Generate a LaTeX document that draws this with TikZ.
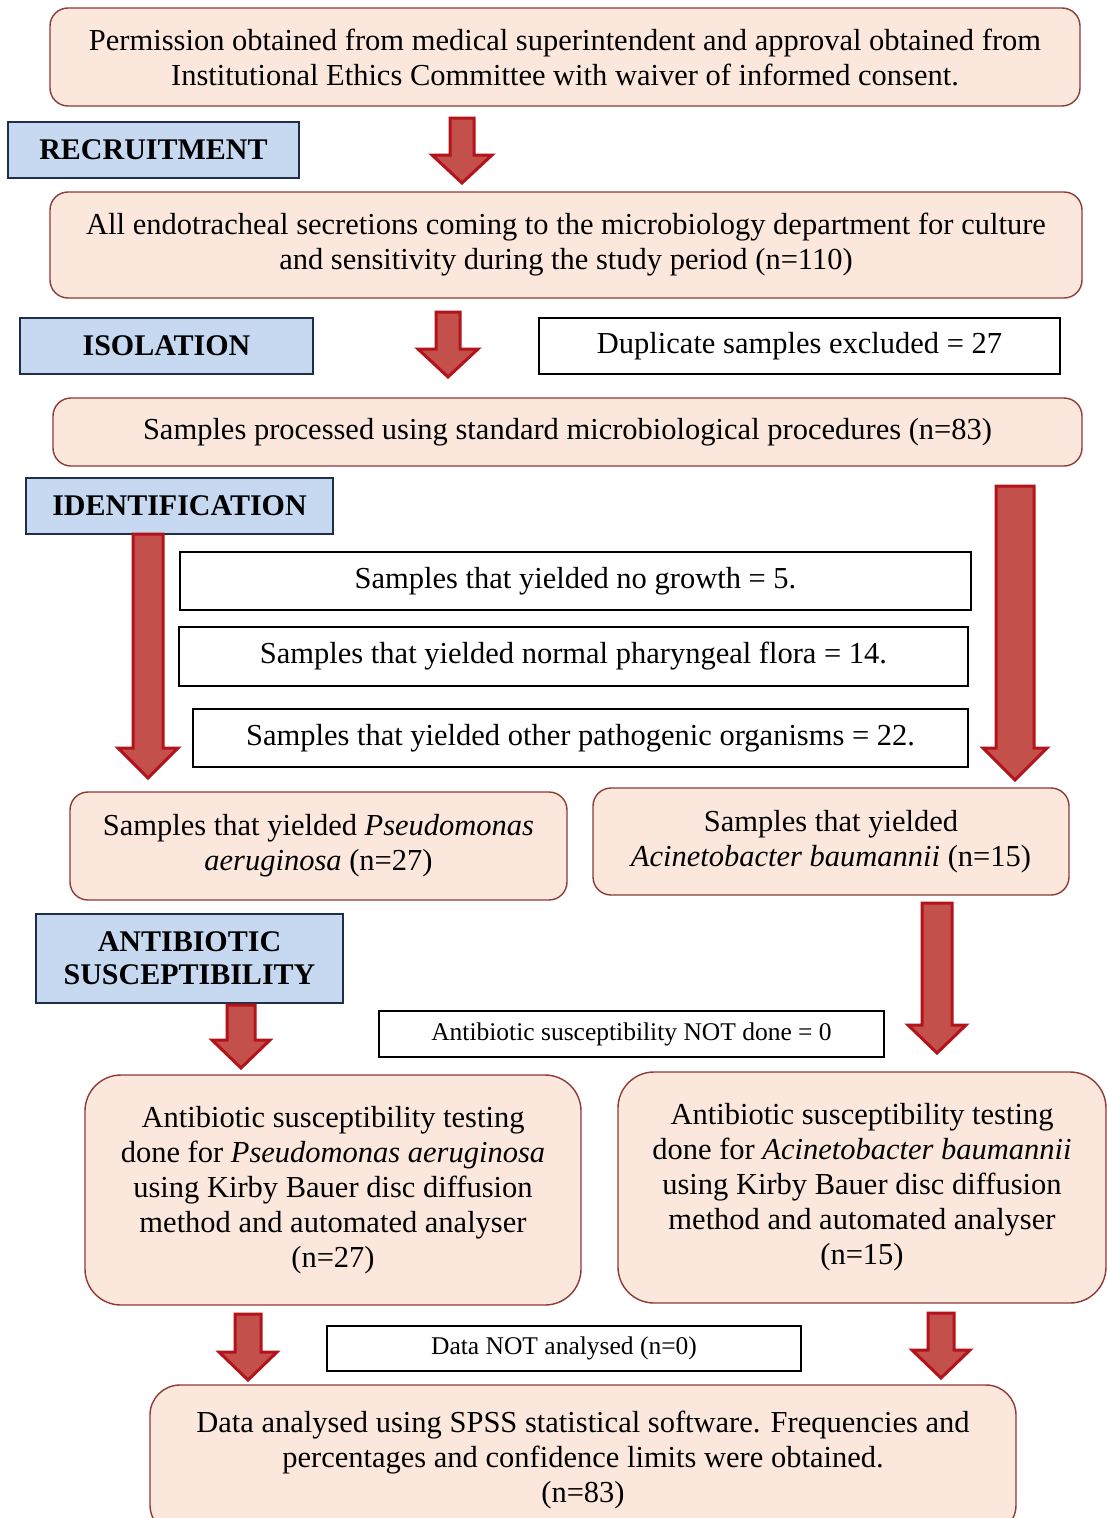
\documentclass[tikz,border=0pt]{standalone}
\usepackage{fontspec}
\setmainfont{Liberation Serif}
\definecolor{peachfill}{HTML}{FCE7DD}
\definecolor{peachline}{HTML}{8E3A36}
\definecolor{bluefill}{HTML}{C6D9F1}
\definecolor{blueline}{HTML}{1F2F4A}
\definecolor{arrfill}{HTML}{C4504C}
\definecolor{arrline}{HTML}{B3131A}
\tikzset{
  peach/.style={draw=peachline, fill=peachfill, line width=1.4pt, rounded corners=18pt, align=center, inner sep=0pt, font=\fontsize{30.5}{35}\selectfont},
  bluebox/.style={draw=blueline, fill=bluefill, line width=1.4pt, align=center, inner sep=0pt, font=\fontsize{30}{33}\selectfont\bfseries},
  whitebox/.style={draw=black, fill=white, line width=1.4pt, align=center, inner sep=0pt, font=\fontsize{30.5}{35}\selectfont},
  smallwhite/.style={whitebox, font=\fontsize{25.5}{28}\selectfont},
  blockarrow/.style={fill=arrfill, draw=arrline, line width=3pt, line join=miter},
}
\newcommand{\barrow}[6]{%
  \draw[blockarrow] ({#1-#4},#2) -- ({#1+#4},#2) -- ({#1+#4},{#3-#6}) -- ({#1+#5},{#3-#6}) -- (#1,#3) -- ({#1-#5},{#3-#6}) -- ({#1-#4},{#3-#6}) -- cycle;}
\begin{document}
\begin{tikzpicture}[x=1pt,y=-1pt]
\useasboundingbox[fill=white] (0,0) rectangle (1107,1518);

% main flow boxes
\node[peach, minimum width=1030pt, minimum height=98pt] (perm) at (565,57)
  {Permission obtained from medical superintendent and approval obtained from\\Institutional Ethics Committee with waiver of informed consent.};
\node[bluebox, minimum width=291pt, minimum height=56pt] (recr) at (153.5,150) {RECRUITMENT};
\node[peach, minimum width=1032pt, minimum height=106pt] (all) at (566,245)
  {All endotracheal secretions coming to the microbiology department for culture\\and sensitivity during the study period (n=110)};
\node[bluebox, minimum width=293pt, minimum height=56pt] (isol) at (166.5,346) {ISOLATION};
\node[whitebox, minimum width=521pt, minimum height=56pt] (dup) at (799.5,346) {Duplicate samples excluded = 27};
\node[peach, minimum width=1029pt, minimum height=68pt] (proc) at (567.5,432)
  {Samples processed using standard microbiological procedures (n=83)};
\node[bluebox, minimum width=307pt, minimum height=56pt] (ident) at (179.5,506) {IDENTIFICATION};

\node[whitebox, minimum width=791pt, minimum height=58pt] (nogr) at (575.5,581) {Samples that yielded no growth = 5.};
\node[whitebox, minimum width=789pt, minimum height=59pt] (flora) at (573.5,656.5) {Samples that yielded normal pharyngeal flora = 14.};
\node[whitebox, minimum width=775pt, minimum height=58pt] (other) at (580.5,738) {Samples that yielded other pathogenic organisms = 22.};

\node[peach, minimum width=497pt, minimum height=108pt] (pseudo) at (318.5,846)
  {Samples that yielded \textit{Pseudomonas}\\\textit{aeruginosa} (n=27)};
\node[peach, minimum width=476pt, minimum height=107pt] (acin) at (831,841.5)
  {Samples that yielded\\\textit{Acinetobacter baumannii} (n=15)};

\node[bluebox, minimum width=307pt, minimum height=89pt] (ast) at (189.5,958.5) {ANTIBIOTIC\\SUSCEPTIBILITY};
\node[smallwhite, minimum width=505pt, minimum height=46pt] (notdone) at (631.5,1034) {Antibiotic susceptibility NOT done = 0};

\node[peach, rounded corners=36pt, minimum width=496pt, minimum height=230pt] (astp) at (333,1190)
  {Antibiotic susceptibility testing\\done for \textit{Pseudomonas aeruginosa}\\using Kirby Bauer disc diffusion\\method and automated analyser\\(n=27)};
\node[peach, rounded corners=36pt, minimum width=488pt, minimum height=231pt] (asta) at (862,1187.5)
  {Antibiotic susceptibility testing\\done for \textit{Acinetobacter baumannii}\\using Kirby Bauer disc diffusion\\method and automated analyser\\(n=15)};

\node[smallwhite, minimum width=474pt, minimum height=45pt] (notan) at (564,1348.5) {Data NOT analysed (n=0)};
\node[peach, rounded corners=30pt, minimum width=866pt, minimum height=150pt] (data) at (583,1460)
  {Data analysed using SPSS statistical software. Frequencies and\\percentages and confidence limits were obtained.\\(n=83)};

% block arrows
\barrow{462}{118}{183}{12}{30}{28}
\barrow{448}{312}{377}{12}{30}{28}
\barrow{148}{534}{778}{15}{30}{30}
\barrow{1015}{486}{780}{19}{32}{32}
\barrow{241}{1005}{1068}{14}{29}{28}
\barrow{937}{903}{1053}{15}{29}{28}
\barrow{248}{1314}{1380}{13}{29}{28}
\barrow{941}{1313}{1378}{13}{29}{28}
\end{tikzpicture}
\end{document}
